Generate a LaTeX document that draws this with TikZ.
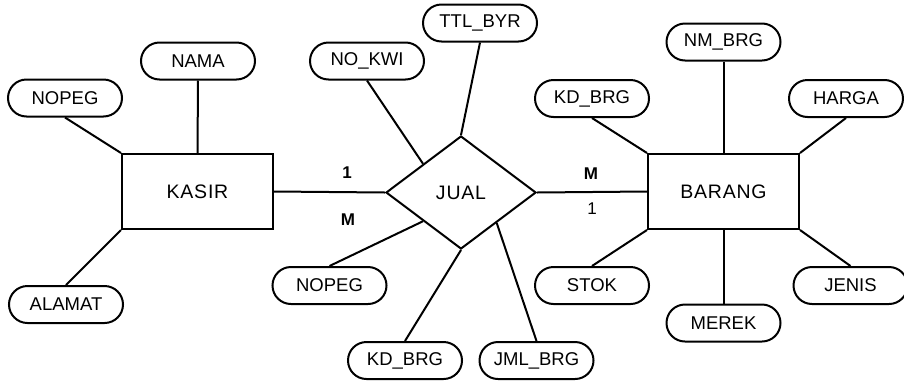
\documentclass[tikz,border=0pt]{standalone}
\usepackage{fontspec}
\setmainfont{Liberation Sans}
\newfontfamily\entfam[LetterSpace=4]{Liberation Sans}
\newcommand\entfont{\entfam\fontsize{19.5}{21}\selectfont}
\newcommand\attrfont{\fontsize{18.5}{20}\selectfont}
\newcommand\cardbold{\bfseries\fontsize{17}{19}\selectfont}
\newcommand\cardreg{\fontsize{17}{19}\selectfont}
\usetikzlibrary{shapes.geometric,shapes.misc,calc}
\begin{document}
\begin{tikzpicture}[x=1pt,y=-1pt,
  attr/.style={draw, rounded rectangle, line width=2pt, minimum width=114pt,
    minimum height=37pt, inner sep=0pt, font=\attrfont},
  entity/.style={draw, rectangle, line width=2pt, minimum width=151pt,
    minimum height=75pt, inner sep=0pt, font=\entfont},
  rel/.style={draw, diamond, aspect=1.33, line width=2pt, minimum width=150pt,
    minimum height=113pt, inner sep=0pt, font=\entfont},
  link/.style={line width=2pt},
  cardb/.style={font=\cardbold, inner sep=0pt},
  cardr/.style={font=\cardreg, inner sep=0pt}
]
\useasboundingbox (0,0) rectangle (904,381);

% entities and relationship
\node[entity] (kasir) at (197.5,191.5) {KASIR};
\node[entity] (barang) at (723.5,191.5) {BARANG};
\node[rel] (jual) at (461,192.5) {JUAL};

% KASIR attributes
\node[attr] (nopegk) at (65,98) {NOPEG};
\node[attr] (nama) at (198,61) {NAMA};
\node[attr] (alamat) at (66,304.5) {ALAMAT};

% JUAL attributes
\node[attr] (nokwi) at (367,61) {NO\_KWI};
\node[attr] (ttlbyr) at (480,23) {TTL\_BYR};
\node[attr] (nopegj) at (329.5,285.5) {NOPEG};
\node[attr] (kdbrgj) at (405,360.5) {KD\_BRG};
\node[attr] (jmlbrg) at (536.5,360.5) {JML\_BRG};

% BARANG attributes
\node[attr] (kdbrgb) at (592,98.5) {KD\_BRG};
\node[attr] (nmbrg) at (723.5,42) {NM\_BRG};
\node[attr] (harga) at (846,98.5) {HARGA};
\node[attr] (stok) at (592,285.5) {STOK};
\node[attr] (merek) at (723.5,323) {MEREK};
\node[attr] (jenis) at (850.5,285.5) {JENIS};

% attribute links
\draw[link] (nopegk.south) -- (kasir.north west);
\draw[link] (nama.south) -- (kasir.north);
\draw[link] (alamat.north) -- (kasir.south west);

\draw[link] (nokwi.south) -- ($(jual.west)!0.5!(jual.north)$);
\draw[link] (ttlbyr.south) -- (jual.north);
\draw[link] (nopegj.north) -- ($(jual.west)!0.5!(jual.south)$);
\draw[link] (kdbrgj.north) -- (jual.south);
\draw[link] (jmlbrg.north) -- ($(jual.south)!0.47!(jual.east)$);

\draw[link] (kdbrgb.south) -- (barang.north west);
\draw[link] (nmbrg.south) -- (barang.north);
\draw[link] (harga.south) -- (barang.north east);
\draw[link] (stok.north) -- (barang.south west);
\draw[link] (merek.north) -- (barang.south);
\draw[link] (jenis.north) -- (barang.south east);

% relationship links
\draw[link] (kasir.east) -- (jual.west);
\draw[link] (jual.east) -- (barang.west);

% cardinalities
\node[cardb] (c1) at (347,173) {1};
\node[cardb] (c2) at (348,220) {M};
\node[cardb] (c3) at (591,174) {M};
\node[cardr] (c4) at (592,209) {1};
\end{tikzpicture}
\end{document}
